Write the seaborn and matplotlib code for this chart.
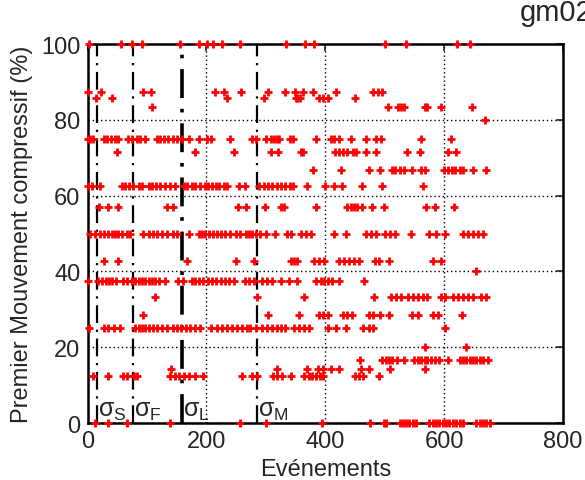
import pandas as pd
import seaborn as sns
import matplotlib
matplotlib.use('Agg')
import matplotlib.pyplot as plt

# x positions (events) of the points, one list per y level (%)
x_100 = [3, 56, 75, 92, 156, 188, 201, 211, 226, 256, 334, 366, 381, 501, 536, 621, 643]
x_87 = [1, 23, 94, 107, 214, 229, 259, 304, 333, 349, 363, 380, 418, 481, 488, 496]
x_85 = [14, 41, 235, 297, 350, 353, 357, 390, 396, 404, 450]
x_83 = [108, 505, 522, 527, 533, 567, 571, 595, 647]
x_80 = [668]
x_75 = [1, 4, 10, 27, 32, 40, 46, 52, 68, 75, 83, 89, 97, 117, 122, 128, 135, 143, 150, 159,
        170, 187, 201, 207, 239, 277, 284, 300, 308, 314, 319, 323, 340, 346, 384, 409, 415,
        423, 443, 468, 485, 494, 561, 612]
x_71 = [50, 181, 246, 308, 321, 359, 363, 417, 423, 430, 437, 446, 451, 468, 485, 537, 559, 606, 620]
x_66 = [379, 426, 473, 492, 512, 518, 525, 533, 546, 561, 568, 599, 606, 613, 619, 626, 631, 649, 670]
x_62 = [1, 8, 21, 58, 63, 70, 77, 86, 91, 103, 108, 115, 122, 131, 139, 147, 162, 167, 175, 181,
        190, 198, 203, 210, 216, 222, 229, 235, 255, 265, 289, 297, 304, 311, 318, 325, 333, 340,
        346, 370, 400, 415, 429, 462, 495, 564]
x_57 = [19, 34, 52, 134, 143, 253, 267, 298, 325, 330, 384, 437, 443, 449, 454, 462, 478, 499, 570, 584, 617]
x_50 = [4, 13, 21, 27, 35, 41, 46, 52, 58, 66, 72, 94, 103, 111, 117, 125, 134, 143, 150, 171, 187,
        193, 198, 205, 211, 218, 225, 232, 240, 249, 257, 266, 271, 277, 283, 291, 300, 315, 336,
        343, 359, 367, 376, 415, 435, 468, 477, 485, 501, 509, 518, 544, 575, 586, 601, 631, 640,
        648, 657, 666]
x_42 = [27, 52, 167, 249, 280, 342, 347, 353, 381, 390, 398, 423, 432, 440, 449, 457, 484, 491, 507, 581, 595]
x_40 = [653]
x_37 = [1, 18, 25, 31, 36, 42, 48, 60, 66, 75, 80, 86, 91, 97, 103, 108, 114, 120, 131, 153, 160,
        175, 181, 188, 195, 203, 210, 216, 224, 231, 238, 246, 265, 271, 280, 294, 302, 311, 325,
        339, 353, 384, 392, 398, 404, 411, 423, 466]
x_33 = [114, 285, 364, 482, 511, 519, 527, 539, 547, 556, 564, 572, 595, 601, 615, 623, 631, 640, 648, 662, 671]
x_28 = [94, 304, 356, 390, 396, 405, 430, 437, 445, 473, 480, 492, 508, 546, 556, 581, 589, 630]
x_25 = [3, 27, 35, 44, 55, 80, 86, 91, 97, 104, 111, 117, 125, 134, 143, 150, 158, 165, 173, 181,
        190, 207, 218, 226, 235, 243, 252, 260, 269, 274, 283, 294, 302, 310, 318, 325, 332, 347,
        356, 364, 372, 405, 418, 435, 464, 473, 481, 601]
x_20 = [567, 637]
x_16 = [458, 496, 502, 508, 513, 520, 533, 550, 556, 561, 567, 572, 578, 584, 591, 606, 626, 631,
        637, 643, 648, 654, 660, 666, 674]
x_14 = [141, 319, 370, 387, 396, 409, 423, 460, 474, 509, 567]
x_12 = [10, 35, 60, 66, 79, 83, 139, 147, 154, 163, 171, 180, 195, 260, 277, 285, 312, 318, 328,
        343, 364, 372, 378, 385, 391, 396, 450, 457, 464, 490]
x_0 = [13, 34, 66, 138, 257, 301, 395, 475, 499, 503, 525, 530, 536, 541, 547, 553, 575, 581, 586,
       592, 598, 603, 609, 615, 620, 626, 631, 654, 660, 665, 671, 677]

levels = {100: x_100, 87.5: x_87, 85.71: x_85, 83.33: x_83, 80: x_80, 75: x_75, 71.43: x_71,
          66.67: x_66, 62.5: x_62, 57.14: x_57, 50: x_50, 42.86: x_42, 40: x_40, 37.5: x_37,
          33.33: x_33, 28.57: x_28, 25: x_25, 20: x_20, 16.67: x_16, 14.29: x_14, 12.5: x_12,
          0: x_0}

# stress markers
sigma_x = [15.5, 76, 159, 285.5]
sigma_lbl = ['S', 'F', 'L', 'M']

rows = []
for yv, xs in levels.items():
    for xv in xs:
        rows.append((xv, yv))
df = pd.DataFrame(rows, columns=['x', 'y'])

sns.set_style("white")
plt.rcParams['font.family'] = ['Liberation Sans', 'DejaVu Sans']

fig = plt.figure(figsize=(5.85, 4.81), dpi=100)
ax = fig.add_axes([0.1496, 0.1185, 0.8128, 0.7875])

sns.scatterplot(data=df, x='x', y='y', marker='+', color='red', s=32, linewidth=2,
                clip_on=False, zorder=5, ax=ax)

for sx, lb in zip(sigma_x, sigma_lbl):
    ax.axvline(sx, color='black', lw=2.6 if lb == 'L' else 1.6, linestyle=(0, (8, 3, 1, 3)), zorder=3)
    ax.text(sx + 1.5, 2.0, 'σ$_\\mathregular{' + lb + '}$', fontsize=18, va='baseline', ha='left', zorder=6)

ax.set_xlim(0, 800)
ax.set_ylim(0, 100)
ax.set_xticks([0, 200, 400, 600, 800])
ax.set_yticks([0, 20, 40, 60, 80, 100])
ax.grid(True, linestyle=(0, (1, 2)), color='black', linewidth=1)
ax.set_axisbelow(True)
for sp in ax.spines.values():
    sp.set_color('black')
    sp.set_linewidth(1.8)
ax.tick_params(direction='in', length=5, width=1.2, top=True, right=True, labelsize=17, pad=5)

ax.set_xlabel('Evénements', fontsize=17, labelpad=4)
ax.set_ylabel('Premier Mouvement compressif (%)', fontsize=17, labelpad=6)
fig.text(0.889, 0.956, 'gm02', fontsize=21, va='baseline', ha='left')

fig.savefig('out.png', dpi=100)
